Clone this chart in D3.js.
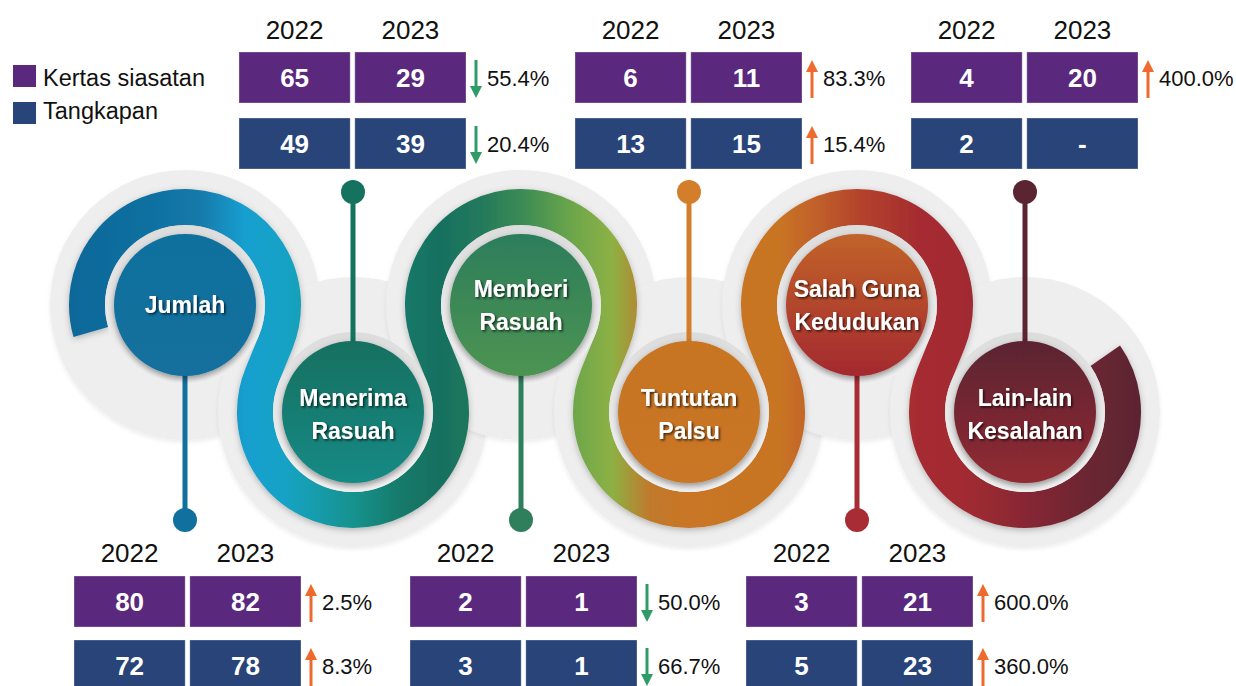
<!DOCTYPE html>
<html>
<head>
<meta charset="utf-8">
<script src="https://cdn.jsdelivr.net/npm/d3@7"></script>
<style>
  html, body { margin: 0; padding: 0; background: #fff; }
  svg { display: block; font-family: "Liberation Sans", Arial, sans-serif; }
</style>
</head>
<body>
<svg id="chart"></svg>
<script>
let categories = ["Jumlah", "Menerima Rasuah", "Memberi Rasuah", "Tuntutan Palsu", "Salah Guna Kedudukan", "Lain-lain Kesalahan"]
let years = ["2022", "2023"]
let kertas2022 = [80, 65, 2, 6, 3, 4]
let kertas2023 = [82, 29, 1, 11, 21, 20]
let tangkapan2022 = [72, 49, 3, 13, 5, 2]
let tangkapan2023 = [78, 39, 1, 15, 23, null]   // null shown as "-"
let legendLabels = ["Kertas siasatan", "Tangkapan"]

// colours per category (disc top, disc bottom, stem)
let discTop = ["#116f9d", "#13705f", "#2c7d5c", "#c87424", "#c1632a", "#5a2430"]
let discBottom = ["#12709e", "#178a85", "#4d9451", "#c97625", "#a4292f", "#922a33"]
let stemColors = ["#12709e", "#14725f", "#2f7f5c", "#d37e2b", "#a82c33", "#5a2430"]
let rowColors = ["#5a287c", "#284479"]

let width = 1236
let height = 686

let svg = d3.select("#chart").attr("width", width).attr("height", height)
let defs = svg.append("defs")

// filters
let addShadow = (id, dx, dy, sd, op) => {
  defs.append("filter").attr("id", id)
      .attr("x", "-30%").attr("y", "-30%").attr("width", "160%").attr("height", "160%")
    .append("feDropShadow")
      .attr("dx", dx).attr("dy", dy).attr("stdDeviation", sd)
      .attr("flood-color", "#000").attr("flood-opacity", op)
}
addShadow("discShadow", 0, 3, 3, 0.4)
addShadow("bandShadow", 0, 2, 3, 0.25)
addShadow("textShadow", 1.5, 1.5, 1, 0.7)
addShadow("grayShadow", 0, 2, 2, 0.08)

// horizontal gradient running along the snake
let bandStops = [
  [69, "#0e6899"], [150, "#1170a0"], [200, "#127aab"], [245, "#169fcf"], [285, "#16a2c6"],
  [300, "#16a0b8"], [353, "#15928e"], [400, "#157a6a"], [440, "#16705f"], [480, "#23795b"],
  [521, "#3a8a55"], [570, "#6aa54b"], [612, "#8db144"], [650, "#c0792c"], [689, "#c97625"],
  [780, "#c87424"], [820, "#c05e2b"], [860, "#b3432c"], [920, "#a52b30"], [960, "#a42a31"],
  [1025, "#872834"], [1090, "#6a2632"], [1142, "#5b2430"]
]
let bandGrad = defs.append("linearGradient").attr("id", "bandGrad")
  .attr("gradientUnits", "userSpaceOnUse")
  .attr("x1", 69).attr("x2", 1142).attr("y1", 0).attr("y2", 0)
bandGrad.selectAll("stop").data(bandStops).enter().append("stop")
  .attr("offset", d => (d[0] - 69) / (1142 - 69))
  .attr("stop-color", d => d[1])

categories.forEach((c, i) => {
  let g = defs.append("linearGradient").attr("id", "disc" + i)
    .attr("x1", 0).attr("x2", 0).attr("y1", 0).attr("y2", 1)
  g.append("stop").attr("offset", 0).attr("stop-color", discTop[i])
  g.append("stop").attr("offset", 1).attr("stop-color", discBottom[i])
})

let ringGrad = defs.append("linearGradient").attr("id", "ringGrad")
  .attr("x1", 0).attr("x2", 0).attr("y1", 0).attr("y2", 1)
ringGrad.append("stop").attr("offset", 0).attr("stop-color", "#dcdcdc")
ringGrad.append("stop").attr("offset", 1).attr("stop-color", "#f4f4f4")

// layout
let x = d3.scalePoint().domain(categories).range([185, 1025])
let cy = i => i % 2 === 0 ? 305 : 412
let R = 98, bandW = 36, discR = 71, ringR = 80, grayR = 135
let centers = categories.map((c, i) => ({ x: x(c), y: cy(i) }))

// gray backdrop
svg.append("g").selectAll("circle").data(centers).enter().append("circle")
  .attr("cx", d => d.x).attr("cy", d => d.y).attr("r", grayR)
  .attr("fill", "#eeeeee")
  .attr("filter", "url(#grayShadow)")

// snake band: arcs round each centre joined by inner tangents
let rad = deg => deg * Math.PI / 180
let band = d3.path()
let a = rad(164)
band.moveTo(centers[0].x + R * Math.cos(a), centers[0].y + R * Math.sin(a))
centers.forEach((c, i) => {
  let cw = i % 2 === 0
  let exit
  if (i < centers.length - 1) {
    let n = centers[i + 1]
    let th = Math.atan2(n.y - c.y, n.x - c.x)
    let al = Math.acos(Math.min(1, 2 * R / Math.hypot(n.x - c.x, n.y - c.y)))
    exit = cw ? th - al : th + al
  } else {
    exit = rad(-35)
  }
  band.arc(c.x, c.y, R, a, exit, !cw)
  a = exit + Math.PI
})
svg.append("path")
  .attr("d", band.toString())
  .attr("fill", "none")
  .attr("stroke", "url(#bandGrad)")
  .attr("stroke-width", bandW)
  .attr("filter", "url(#bandShadow)")

// rings + discs
svg.append("g").selectAll("circle").data(centers).enter().append("circle")
  .attr("cx", d => d.x).attr("cy", d => d.y).attr("r", ringR)
  .attr("fill", "url(#ringGrad)")

// stems and dots
let stems = svg.append("g")
centers.forEach((c, i) => {
  let up = i % 2 === 1
  let dotY = up ? 192 : 520
  stems.append("line")
    .attr("x1", c.x).attr("x2", c.x)
    .attr("y1", up ? c.y - discR + 2 : c.y + discR - 2)
    .attr("y2", dotY)
    .attr("stroke", stemColors[i]).attr("stroke-width", 5)
  stems.append("circle")
    .attr("cx", c.x).attr("cy", dotY).attr("r", 12)
    .attr("fill", stemColors[i])
})

svg.append("g").selectAll("circle").data(centers).enter().append("circle")
  .attr("cx", d => d.x).attr("cy", d => d.y).attr("r", discR)
  .attr("fill", (d, i) => "url(#disc" + i + ")")
  .attr("filter", "url(#discShadow)")

// disc labels, split at the last space
let labels = svg.append("g")
categories.forEach((c, i) => {
  let k = c.lastIndexOf(" ")
  let lines = k < 0 ? [c] : [c.slice(0, k), c.slice(k + 1)]
  let t = labels.append("text")
    .attr("text-anchor", "middle")
    .attr("font-size", 23).attr("font-weight", "bold")
    .attr("fill", "#fff")
    .attr("filter", "url(#textShadow)")
  lines.forEach((l, j) => {
    t.append("tspan")
      .attr("x", centers[i].x)
      .attr("y", centers[i].y + 8 + (i % 2) * 2 + (j - (lines.length - 1) / 2) * 33)
      .text(l)
  })
})

// tables
let col = d3.scaleBand().domain(years).range([-114, 113]).paddingInner(0.04)
let rowH = 51
let series = [[kertas2022, kertas2023], [tangkapan2022, tangkapan2023]]

let tables = svg.append("g")
categories.forEach((c, i) => {
  let top = i % 2 === 1
  let cx = x(c) + (top ? 0 : 3)
  let yearY = top ? 39 : 562
  let rowY = top ? [52, 118] : [576, 640]

  years.forEach(yr => {
    tables.append("text")
      .attr("x", cx + col(yr) + col.bandwidth() / 2)
      .attr("y", yearY)
      .attr("text-anchor", "middle")
      .attr("font-size", 26)
      .attr("fill", "#111")
      .text(yr)
  })

  series.forEach((s, r) => {
    let vals = [s[0][i], s[1][i]]
    years.forEach((yr, k) => {
      tables.append("rect")
        .attr("x", cx + col(yr)).attr("y", rowY[r])
        .attr("width", col.bandwidth()).attr("height", rowH)
        .attr("fill", rowColors[r])
        .attr("stroke", "rgba(255,255,255,0.3)")
      tables.append("text")
        .attr("x", cx + col(yr) + col.bandwidth() / 2)
        .attr("y", rowY[r] + rowH / 2 + 9.5)
        .attr("text-anchor", "middle")
        .attr("font-size", 26).attr("font-weight", "bold")
        .attr("fill", "#fff")
        .text(vals[k] == null ? "-" : vals[k])
    })

    if (vals[0] == null || vals[1] == null) return
    let pct = (vals[1] - vals[0]) / vals[0] * 100
    let rise = pct > 0
    let ax = cx + 113 + 10
    let y0 = rowY[r] + 8, y1 = rowY[r] + 46
    let colr = rise ? "#ee6a2e" : "#2f9c68"
    tables.append("line")
      .attr("x1", ax).attr("x2", ax)
      .attr("y1", rise ? y0 + 10 : y0)
      .attr("y2", rise ? y1 : y1 - 10)
      .attr("stroke", colr).attr("stroke-width", 3)
    let head = rise
      ? [[ax - 6, y0 + 12], [ax + 6, y0 + 12], [ax, y0]]
      : [[ax - 6, y1 - 12], [ax + 6, y1 - 12], [ax, y1]]
    tables.append("path")
      .attr("d", d3.line()(head) + "Z")
      .attr("fill", colr)
    tables.append("text")
      .attr("x", cx + 113 + 21)
      .attr("y", rowY[r] + rowH / 2 + 8)
      .attr("font-size", 22)
      .attr("fill", "#111")
      .text(Math.abs(pct).toFixed(1) + "%")
  })
})

// legend
let legend = svg.append("g")
legendLabels.forEach((l, i) => {
  legend.append("rect")
    .attr("x", 13).attr("y", 65 + i * 37)
    .attr("width", 23).attr("height", 22)
    .attr("fill", rowColors[i])
  legend.append("text")
    .attr("x", 43).attr("y", 86 + i * 33)
    .attr("font-size", 23.5)
    .attr("fill", "#111")
    .text(l)
})
</script>
</body>
</html>
